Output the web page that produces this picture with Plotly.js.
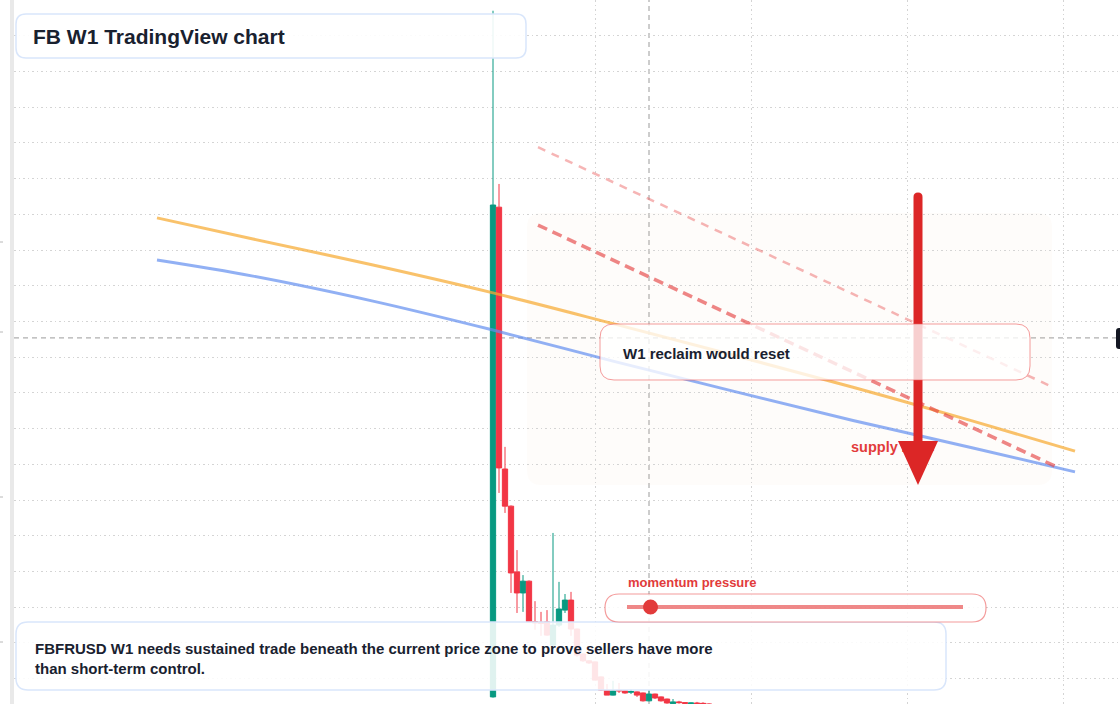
<!DOCTYPE html>
<html>
<head>
<meta charset="utf-8">
<script src="https://cdn.plot.ly/plotly-3.0.1.min.js"></script>
<style>
  html, body { margin: 0; padding: 0; background: #ffffff; }
  #chart { width: 1120px; height: 704px; }
</style>
</head>
<body>
<div id="chart"></div>
<script>
// ---------------- data ----------------
const weeks = [0,1,2,3,4,5,6,7,8,9,10,11,12,13,14,15,16,17,18,19,20,21,22,23,24,25,26,27,28,29,30,31,32,33,34,35,36];
const open  = [1.49,15.20,7.87,6.83,4.99,4.40,4.73,3.60,3.58,3.59,2.94,3.50,3.92,4.20,3.39,2.69,2.50,2.47,2.05,1.68,1.54,1.68,1.66,1.62,1.63,1.60,1.38,1.57,1.49,1.43,1.30,1.35,1.33,1.30,1.32,1.31,1.29];
const high  = [20.70,15.85,8.49,6.85,5.60,4.90,4.75,4.17,3.87,3.92,6.08,4.71,4.37,4.43,3.40,2.70,2.52,2.48,2.06,1.85,1.94,1.88,1.68,1.71,1.64,1.61,1.68,1.58,1.50,1.44,1.43,1.38,1.34,1.33,1.35,1.34,1.31];
const low   = [1.47,7.20,6.64,4.40,3.84,3.87,3.58,3.37,3.20,3.20,2.92,3.45,3.84,3.20,2.61,2.47,2.41,1.96,1.66,1.54,1.53,1.60,1.58,1.57,1.49,1.36,1.37,1.43,1.36,1.30,1.29,1.30,1.29,1.29,1.28,1.27,1.26];
const close = [15.26,7.90,6.83,4.96,4.40,4.73,3.59,3.56,3.55,3.22,3.50,3.95,4.20,3.39,2.66,2.50,2.44,1.96,1.68,1.54,1.66,1.66,1.60,1.64,1.54,1.38,1.57,1.46,1.38,1.32,1.35,1.33,1.31,1.32,1.30,1.29,1.28];

// moving-average style guide lines
const maX      = [-56,-40,-20,0,20,40,60,80,97];
const maOrange = [14.90,14.31,13.58,12.80,11.94,11.06,10.16,9.21,8.37];
const maBlue   = [13.72,13.27,12.57,11.76,10.89,10.05,9.23,8.46,7.79];

// trend lines
const trendX      = [7.5, 93.67];
const trendY      = [14.70, 7.95];
const upperTrendX = [7.5, 93.17];
const upperTrendY = [16.88, 10.17];

// supply zone
const zoneX = [5.67, 93.17];
const zoneY = [7.42, 15.04];
const zoneLabelX = 59.67, zoneLabelY = 8.46;

// crosshair
const crossX = 26, crossY = 11.54;
// x grid (period markers)
const gridTicks = [17, 43, 69, 95];

// momentum gauge (0..1)
const momentum = 0.07;

// texts
const titleText  = 'FB W1 TradingView chart';
const reclaimText = 'W1 reclaim would reset';
const bottomText = 'FBFRUSD W1 needs sustained trade beneath the current price zone to prove sellers have more<br>than short-term control.';
const momentumText = 'momentum pressure';
const zoneText = 'supply zone';

// ---------------- layout helpers ----------------
const ML = 14, MR = 0, MT = 0, MB = 0, W = 1120, H = 704;
const PW = W - ML - MR, PH = H - MT - MB;
const xp = px => (px - ML) / PW;
const yp = py => 1 - (py - MT) / PH;
function P(x, y) { return xp(x).toFixed(5) + ',' + yp(y).toFixed(5); }
function rrPix(x0, y0, x1, y1, r) {
  return 'M' + P(x0 + r, y0) + ' L' + P(x1 - r, y0) + ' Q' + P(x1, y0) + ' ' + P(x1, y0 + r) +
         ' L' + P(x1, y1 - r) + ' Q' + P(x1, y1) + ' ' + P(x1 - r, y1) +
         ' L' + P(x0 + r, y1) + ' Q' + P(x0, y1) + ' ' + P(x0, y1 - r) +
         ' L' + P(x0, y0 + r) + ' Q' + P(x0, y0) + ' ' + P(x0 + r, y0) + ' Z';
}
function rrData(x0, x1, yLo, yHi, rx, ry) {
  const Q = (x, y) => x.toFixed(4) + ',' + y.toFixed(4);
  return 'M' + Q(x0 + rx, yHi) + ' L' + Q(x1 - rx, yHi) + ' Q' + Q(x1, yHi) + ' ' + Q(x1, yHi - ry) +
         ' L' + Q(x1, yLo + ry) + ' Q' + Q(x1, yLo) + ' ' + Q(x1 - rx, yLo) +
         ' L' + Q(x0 + rx, yLo) + ' Q' + Q(x0, yLo) + ' ' + Q(x0, yLo + ry) +
         ' L' + Q(x0, yHi - ry) + ' Q' + Q(x0, yHi) + ' ' + Q(x0 + rx, yHi) + ' Z';
}

const FONT = 'Liberation Sans, Arial, sans-serif';
const DARK = '#19212f';
const RED = '#dc2626';

// ---------------- traces ----------------
const traces = [
  {
    type: 'scatter', mode: 'lines', x: maX, y: maOrange, hoverinfo: 'skip',
    line: { color: 'rgba(247,170,50,0.72)', width: 3, shape: 'spline' }, showlegend: false
  },
  {
    type: 'scatter', mode: 'lines', x: maX, y: maBlue, hoverinfo: 'skip',
    line: { color: 'rgba(99,142,240,0.7)', width: 3, shape: 'spline' }, showlegend: false
  },
  {
    type: 'scatter', mode: 'lines', x: upperTrendX, y: upperTrendY, hoverinfo: 'skip',
    line: { color: 'rgba(235,90,90,0.45)', width: 2.5, dash: '8px,7px' }, showlegend: false
  },
  {
    type: 'scatter', mode: 'lines', x: trendX, y: trendY, hoverinfo: 'skip',
    line: { color: 'rgba(228,60,60,0.62)', width: 3.5, dash: '10px,6px' }, showlegend: false
  },
  {
    type: 'candlestick', x: weeks, open: open, high: high, low: low, close: close,
    increasing: { line: { color: '#089981', width: 1 }, fillcolor: '#089981' },
    decreasing: { line: { color: '#f23645', width: 1 }, fillcolor: '#f23645' },
    whiskerwidth: 0, hoverinfo: 'skip', showlegend: false
  },
  {
    type: 'scatter', mode: 'text', x: [zoneLabelX], y: [zoneLabelY], text: ['<b>' + zoneText + '</b>'],
    textposition: 'middle right', textfont: { family: FONT, size: 14.5, color: '#e23b3b' },
    hoverinfo: 'skip', showlegend: false, cliponaxis: false
  }
];

// ---------------- shapes ----------------
const dotX = 627 + (963 - 627) * momentum;
const shapes = [
  // supply zone
  { type: 'path', xref: 'x', yref: 'y', layer: 'below',
    path: rrData(zoneX[0], zoneX[1], zoneY[0], zoneY[1], 2.4, 0.4),
    fillcolor: 'rgba(240,200,170,0.06)', line: { width: 0 } },
  // crosshair
  { type: 'line', xref: 'x', yref: 'paper', layer: 'below', x0: crossX, x1: crossX, y0: 0, y1: 1,
    line: { color: '#9a9a9a', width: 1, dash: '5px,4px' } },
  { type: 'line', xref: 'paper', yref: 'y', layer: 'below', x0: 0, x1: xp(1116), y0: crossY, y1: crossY,
    line: { color: '#9a9a9a', width: 1, dash: '5px,4px' } },
  // left axis strip
  { type: 'rect', xref: 'paper', yref: 'paper', layer: 'above', x0: xp(10), x1: xp(14), y0: 0, y1: 1,
    fillcolor: '#e9e9e9', line: { width: 0 } },
  // left tiny ticks
  ...[242, 332, 497, 642].map(py => ({ type: 'line', xref: 'paper', yref: 'paper', layer: 'above',
    x0: xp(0), x1: xp(3), y0: yp(py), y1: yp(py), line: { color: '#b8b8b8', width: 1 } })),
  // arrow shaft + head
  { type: 'path', xref: 'paper', yref: 'paper', layer: 'above',
    path: 'M' + P(913.5, 446) + ' L' + P(913.5, 197) + ' Q' + P(913.5, 192.5) + ' ' + P(918, 192.5) +
          ' Q' + P(922.5, 192.5) + ' ' + P(922.5, 197) + ' L' + P(922.5, 446) + ' Z',
    fillcolor: RED, line: { width: 0 } },
  { type: 'path', xref: 'paper', yref: 'paper', layer: 'above',
    path: 'M' + P(898, 441) + ' L' + P(938, 441) + ' L' + P(918, 485) + ' Z',
    fillcolor: RED, line: { width: 0 } },
  // reclaim box
  { type: 'path', xref: 'paper', yref: 'paper', layer: 'above', path: rrPix(600, 324, 1030, 380, 14),
    fillcolor: 'rgba(255,255,255,0.78)', line: { color: 'rgba(236,90,90,0.6)', width: 1 } },
  // title box
  { type: 'path', xref: 'paper', yref: 'paper', layer: 'above', path: rrPix(16, 14, 526, 58, 10),
    fillcolor: 'rgba(255,255,255,0.9)', line: { color: '#d9e6fb', width: 1.5 } },
  // bottom box
  { type: 'path', xref: 'paper', yref: 'paper', layer: 'above', path: rrPix(16, 622, 946, 690, 12),
    fillcolor: 'rgba(255,255,255,0.87)', line: { color: '#d9e6fb', width: 1.5 } },
  // momentum pill
  { type: 'path', xref: 'paper', yref: 'paper', layer: 'above', path: rrPix(605, 594, 986, 622, 14),
    fillcolor: 'rgba(255,255,255,0.85)', line: { color: 'rgba(236,90,90,0.6)', width: 1.2 } },
  { type: 'line', xref: 'paper', yref: 'paper', layer: 'above', x0: xp(627), x1: xp(963), y0: yp(607), y1: yp(607),
    line: { color: 'rgba(232,80,80,0.68)', width: 4 } },
  { type: 'circle', xref: 'paper', yref: 'paper', layer: 'above',
    x0: xp(dotX - 7.5), x1: xp(dotX + 7.5), y0: yp(614.5), y1: yp(599.5),
    fillcolor: '#e23b3b', line: { width: 0 } },
  // right price label (cut off)
  { type: 'path', xref: 'paper', yref: 'paper', layer: 'above', path: rrPix(1116, 328, 1140, 349, 3),
    fillcolor: '#131722', line: { width: 0 } }
];

// ---------------- annotations ----------------
const annotations = [
  { xref: 'paper', yref: 'paper', x: xp(31), y: yp(36), xanchor: 'left', yanchor: 'middle', showarrow: false,
    text: '<b>' + titleText + '</b>', font: { family: FONT, size: 21, color: DARK } },
  { xref: 'paper', yref: 'paper', x: xp(621), y: yp(353), xanchor: 'left', yanchor: 'middle', showarrow: false,
    text: '<b>' + reclaimText + '</b>', font: { family: FONT, size: 15, color: DARK } },
  { xref: 'paper', yref: 'paper', x: xp(33), y: yp(658), xanchor: 'left', yanchor: 'middle', showarrow: false, align: 'left',
    text: '<b>' + bottomText + '</b>', font: { family: FONT, size: 15, color: DARK } },
  { xref: 'paper', yref: 'paper', x: xp(626), y: yp(582), xanchor: 'left', yanchor: 'middle', showarrow: false,
    text: '<b>' + momentumText + '</b>', font: { family: FONT, size: 13, color: '#e23b3b' } }
];

const layout = {
  width: W, height: H,
  margin: { l: ML, r: MR, t: MT, b: MB, pad: 0 },
  paper_bgcolor: '#ffffff', plot_bgcolor: '#ffffff',
  showlegend: false, hovermode: false, dragmode: false,
  boxgap: 0.12, boxgroupgap: 0,
  xaxis: {
    type: 'linear', range: [(14 - 493) / 6, (1120 - 493) / 6],
    tickmode: 'array', tickvals: gridTicks, showticklabels: false, ticks: '',
    showgrid: true, gridcolor: '#d4d4d4', gridwidth: 1, griddash: '1.5px,3px',
    zeroline: false, showline: false, rangeslider: { visible: false }, fixedrange: true
  },
  yaxis: {
    type: 'linear', range: [21 - 704 / 35.72, 21],
    tick0: 0, dtick: 1, showticklabels: false, ticks: '',
    showgrid: true, gridcolor: '#d4d4d4', gridwidth: 1, griddash: '1.5px,3px',
    zeroline: false, showline: false, fixedrange: true
  },
  shapes: shapes,
  annotations: annotations
};

Plotly.newPlot('chart', traces, layout, { displayModeBar: false, staticPlot: true });
</script>
</body>
</html>
